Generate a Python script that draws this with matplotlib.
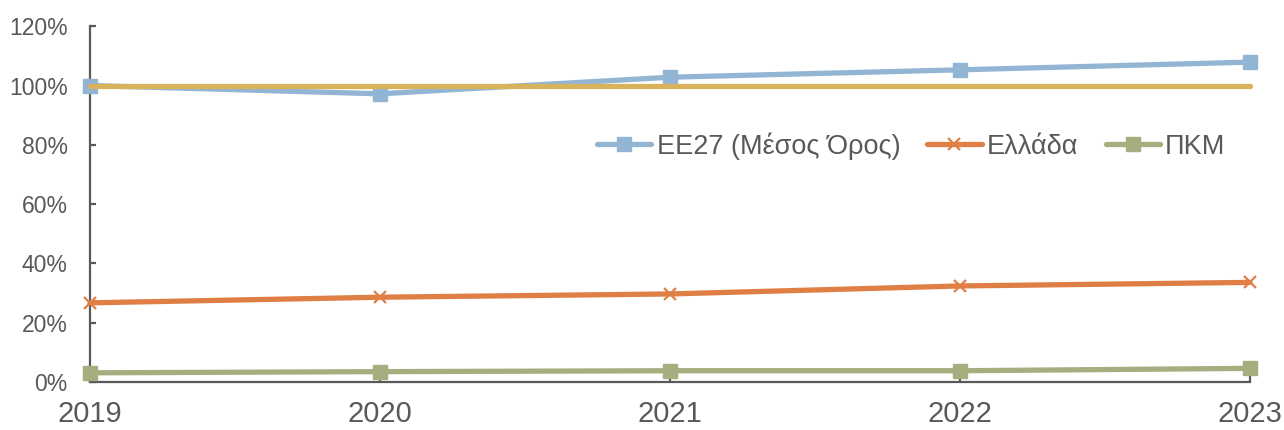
import matplotlib
matplotlib.use("Agg")
import matplotlib.pyplot as plt
from matplotlib.ticker import FuncFormatter

plt.rcParams['font.family'] = ['Liberation Sans', 'DejaVu Sans']

years = [2019, 2020, 2021, 2022, 2023]
eu27 = [100.0, 97.2, 102.8, 105.3, 107.9]
greece = [26.7, 28.6, 29.7, 32.4, 33.6]
pkm = [3.1, 3.5, 3.8, 3.8, 4.6]
reference = [100, 100, 100, 100, 100]

labels = ['ΕΕ27 (Μέσος Όρος)', 'Ελλάδα', 'ΠΚΜ']
colors = ['#93B5D4', '#E07F45', '#A6AD7E']
ref_color = '#D9B25C'
axis_color = '#595959'

fig = plt.figure(figsize=(12.84, 4.30), dpi=100)
ax = fig.add_axes([0.0701, 0.1116, 0.9034, 0.8274])

ax.plot(years, eu27, color=colors[0], lw=3.8, marker='s', ms=10.5,
        solid_capstyle='round', clip_on=False, zorder=3, label=labels[0])
ax.plot(years, greece, color=colors[1], lw=3.8, marker='x', ms=9, mew=1.6,
        solid_capstyle='round', clip_on=False, zorder=3, label=labels[1])
ax.plot(years, pkm, color=colors[2], lw=3.8, marker='s', ms=10.5,
        solid_capstyle='round', clip_on=False, zorder=3, label=labels[2])
ax.plot(years, reference, color=ref_color, lw=3.8, solid_capstyle='round',
        clip_on=False, zorder=4)

ax.set_xlim(years[0], years[-1])
ax.set_ylim(0, 120)
ax.set_xticks(years)
ax.set_yticks(range(0, 121, 20))
ax.yaxis.set_major_formatter(FuncFormatter(lambda v, p: f'{v:.0f}%'))

for side in ('top', 'right'):
    ax.spines[side].set_visible(False)
for side in ('left', 'bottom'):
    ax.spines[side].set_color(axis_color)
    ax.spines[side].set_linewidth(1.6)

ax.tick_params(axis='y', direction='in', length=4.5, width=1.6, color=axis_color,
               labelcolor=axis_color, labelsize=16.5, pad=16)
ax.tick_params(axis='x', direction='in', length=4.5, width=1.6, color=axis_color,
               labelcolor=axis_color, labelsize=21, pad=13)

ax.legend(loc='center', bbox_to_anchor=(0.7097, 0.6605), bbox_transform=fig.transFigure,
          ncol=3, frameon=False, fontsize=19.5, labelcolor=axis_color,
          handlelength=2.0, handletextpad=0.2, columnspacing=1.0)

fig.savefig('out.png', dpi=100)
